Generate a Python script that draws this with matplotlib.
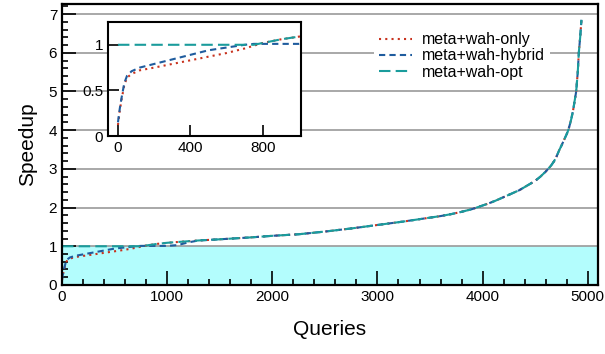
import numpy as np
import matplotlib
matplotlib.use("Agg")
import matplotlib.pyplot as plt
from matplotlib.ticker import MultipleLocator

plt.rcParams['font.family'] = ['Liberation Sans', 'DejaVu Sans']

# Sorted per-query speedups
queries = [0, 10, 20, 35, 50, 75, 120, 200, 300, 400, 500, 600, 700, 750, 800,
           900, 1000, 1100, 1200, 1300, 1500, 1800, 2000, 2250, 2500, 2750, 3000,
           3250, 3500, 3600, 3700, 3800, 3900, 4050, 4125, 4200, 4275, 4350,
           4400, 4500, 4550, 4600, 4650, 4680, 4700, 4730, 4750, 4780, 4800,
           4815, 4840, 4860, 4875, 4890, 4905, 4915, 4928, 4940]
wah_only = [0.12, 0.28, 0.40, 0.56, 0.64, 0.68, 0.72, 0.75, 0.79, 0.83, 0.87,
            0.91, 0.96, 0.99, 1.02, 1.06, 1.09, 1.11, 1.13, 1.15, 1.18, 1.23,
            1.27, 1.31, 1.38, 1.46, 1.55, 1.64, 1.74, 1.78, 1.83, 1.89, 1.96,
            2.10, 2.18, 2.27, 2.36, 2.45, 2.53, 2.69, 2.80, 2.93, 3.08, 3.20,
            3.30, 3.49, 3.60, 3.78, 3.90, 4.00, 4.25, 4.50, 4.75, 5.00, 5.50,
            6.00, 6.40, 6.85]
wah_hybrid = [0.15, 0.30, 0.42, 0.58, 0.66, 0.71, 0.75, 0.79, 0.84, 0.89, 0.94,
              0.97, 1.00, 1.01, 1.01, 1.01, 1.01, 1.03, 1.10, 1.15, 1.18, 1.23,
              1.27, 1.31, 1.38, 1.46, 1.55, 1.64, 1.74, 1.78, 1.83, 1.89, 1.96,
              2.10, 2.18, 2.27, 2.36, 2.45, 2.53, 2.69, 2.80, 2.93, 3.08, 3.20,
              3.30, 3.49, 3.60, 3.78, 3.90, 4.00, 4.25, 4.50, 4.75, 5.00, 5.50,
              6.00, 6.40, 6.85]
wah_opt = [1.00, 1.00, 1.00, 1.00, 1.00, 1.00, 1.00, 1.00, 1.00, 1.00, 1.00,
           1.00, 1.00, 1.00, 1.02, 1.06, 1.09, 1.11, 1.13, 1.15, 1.18, 1.23,
           1.27, 1.31, 1.38, 1.46, 1.55, 1.64, 1.74, 1.78, 1.83, 1.89, 1.96,
           2.10, 2.18, 2.27, 2.36, 2.45, 2.53, 2.69, 2.80, 2.93, 3.08, 3.20,
           3.30, 3.49, 3.60, 3.78, 3.90, 4.00, 4.25, 4.50, 4.75, 5.00, 5.50,
           6.00, 6.40, 6.85]

labels = ["meta+wah-only", "meta+wah-hybrid", "meta+wah-opt"]
colors = ["#c8321e", "#1f5c9e", "#1a9c9c"]
styles = [(0, (1, 2)), (0, (3, 2)), (0, (5.5, 2.5))]
series = [wah_only, wah_hybrid, wah_opt]

fig = plt.figure(figsize=(6.05, 3.54), dpi=100)
ax = fig.add_axes([0.1025, 0.195, 0.8855, 0.7937])

xmax = 5095
ax.fill_between([0, xmax], 0, 1, color="#b3fdfd", zorder=0.3, lw=0)
for vals, lab, c, ls in zip(series, labels, colors, styles):
    ax.plot(queries, vals, color=c, ls=ls, lw=1.5, label=lab, zorder=2)

ax.set_xlim(0, xmax)
ax.set_ylim(0, 7.26)
ax.xaxis.set_major_locator(MultipleLocator(1000))
ax.xaxis.set_minor_locator(MultipleLocator(200))
ax.yaxis.set_major_locator(MultipleLocator(1))
ax.yaxis.set_minor_locator(MultipleLocator(0.2))
ax.set_axisbelow(True)
ax.yaxis.grid(True, color="#9a9a9a", lw=1.2)
ax.tick_params(which="both", direction="in", labelsize=11, width=1.2,
               top=False, right=False)
ax.tick_params(which="major", length=10)
ax.tick_params(which="minor", length=4)
for s in ax.spines.values():
    s.set_linewidth(1.6)
ax.set_xlabel("Queries", fontsize=15, labelpad=12)
ax.set_ylabel("Speedup", fontsize=15, labelpad=8)

leg = ax.legend(loc="center", bbox_to_anchor=(0.7636, 0.842),
                bbox_transform=fig.transFigure, fontsize=11.5, frameon=True,
                facecolor="white", edgecolor="none", framealpha=1,
                fancybox=False, handlelength=2.1, handletextpad=0.6,
                labelspacing=0.08, borderpad=0.3)

# Zoomed inset on the first 1000 queries
ins = fig.add_axes([0.1785, 0.6158, 0.319, 0.3221])
ins.set_facecolor("white")
for vals, c, ls in zip(series, colors, styles):
    ins.plot(queries, vals, color=c, ls=ls, lw=1.5)
ins.set_xlim(-55, 1010)
ins.set_ylim(0, 1.25)
ins.set_xticks([0, 400, 800])
ins.set_yticks([0, 0.5, 1])
ins.set_yticklabels(["0", "0.5", "1"])
ins.tick_params(direction="in", length=8, width=1.2, labelsize=11)
for s in ins.spines.values():
    s.set_linewidth(1.5)

fig.savefig("out.png", dpi=100)
